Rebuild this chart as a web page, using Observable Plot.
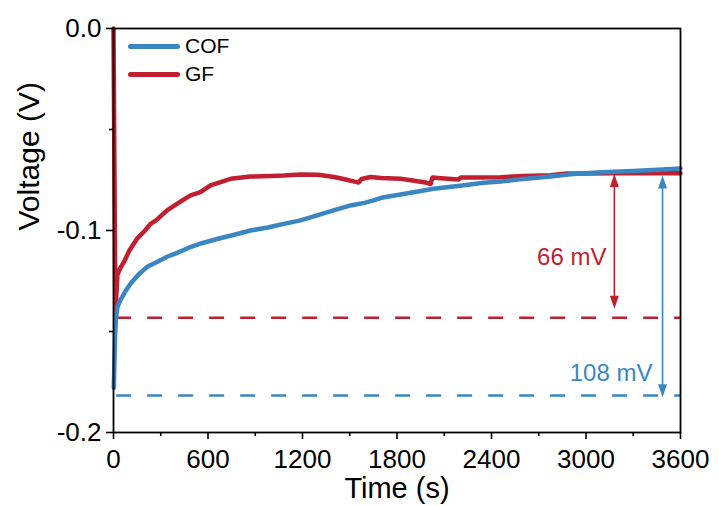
<!DOCTYPE html>
<html>
<head>
<meta charset="utf-8">
<script src="https://cdn.jsdelivr.net/npm/d3@7"></script>
<script src="https://cdn.jsdelivr.net/npm/@observablehq/plot@0.6"></script>
<style>
  html, body { margin: 0; padding: 0; background: #fff; }
  #wrap { position: relative; width: 719px; height: 506px; font-family: 'Liberation Sans', Arial, sans-serif; }
  #wrap svg { display: block; }
  #legend { position: absolute; left: 128px; top: 32px; font-size: 21px; line-height: 28px; color: #000; }
  #legend .row { display: flex; align-items: center; height: 28px; }
  #legend .sw { width: 52px; height: 5px; border-radius: 2.5px; margin-right: 5px; }
</style>
</head>
<body>
<div id="wrap"></div>
<script>
// ---- data ----
const seriesNames = ["COF", "GF"];

const cofTime = [2, 6, 10, 16, 25, 40, 55, 76, 108, 159, 214, 286, 340, 400, 457, 489, 560, 658, 760, 870, 980, 1081, 1187, 1293, 1397, 1505, 1600, 1651, 1700, 1850, 2032, 2200, 2350, 2457, 2565, 2775, 2900, 3100, 3300, 3486, 3600];
const cofVolt = [-0.178, -0.165, -0.152, -0.143, -0.138, -0.135, -0.133, -0.130, -0.1264, -0.1218, -0.118, -0.1152, -0.113, -0.1112, -0.1093, -0.1082, -0.1063, -0.1042, -0.1022, -0.100, -0.0985, -0.0967, -0.095, -0.0925, -0.090, -0.0876, -0.0862, -0.0851, -0.0838, -0.0818, -0.0793, -0.0778, -0.0764, -0.0758, -0.0748, -0.0733, -0.0722, -0.0712, -0.0705, -0.0698, -0.0693];

const gfTime = [0, 12, 25, 40, 70, 100, 150, 200, 235, 270, 340, 420, 489, 552, 616, 680, 743, 870, 1000, 1081, 1187, 1300, 1400, 1461, 1530, 1556, 1575, 1632, 1700, 1822, 1900, 1980, 2013, 2025, 2100, 2190, 2205, 2300, 2457, 2600, 2775, 2880, 3000, 3175, 3400, 3600];
const gfVolt = [0.000, -0.141, -0.122, -0.119, -0.115, -0.110, -0.104, -0.100, -0.0967, -0.095, -0.090, -0.086, -0.0826, -0.081, -0.0777, -0.076, -0.0744, -0.0733, -0.073, -0.0728, -0.0723, -0.0724, -0.0735, -0.0745, -0.0758, -0.0762, -0.0745, -0.0735, -0.074, -0.0744, -0.0752, -0.0762, -0.077, -0.0738, -0.0742, -0.0748, -0.0738, -0.0738, -0.0736, -0.073, -0.0727, -0.0718, -0.0718, -0.0716, -0.0716, -0.0716];

// reference (dashed) levels: [COF, GF]
const levelVolt = [-0.1817, -0.1432];
const levelStart = [20, 20];
const levelEnd = [3600, 3600];

// double arrows: [COF, GF]
const arrowTime = [3486, 3180];
const arrowTop = [-0.0728, -0.0720];
const arrowBottom = [-0.1826, -0.1387];
const arrowLabels = ["108 mV", "66 mV"];
const labelTime = [3422, 3130];
const labelVolt = [-0.1708, -0.1134];

// axis ticks
const xMajor = [0, 600, 1200, 1800, 2400, 3000, 3600];
const xMinor = [300, 900, 1500, 2100, 2700, 3300];
const yMajor = [0, -0.1, -0.2];
const yMinor = [-0.05, -0.15];
const xTickLabels = ["0", "600", "1200", "1800", "2400", "3000", "3600"];
const yTickLabels = ["0.0", "-0.1", "-0.2"];
const xTitle = "Time (s)";
const yTitle = "Voltage (V)";

// ---- styles ----
const colors = {COF: "#3a86c3", GF: "#c11f2f"};
const FONT = "'Liberation Sans', Arial, sans-serif";

const cof = cofTime.map((t, i) => ({t, v: cofVolt[i]}));
const gf = gfTime.map((t, i) => ({t, v: gfVolt[i]}));
const levels = seriesNames.map((s, i) => ({s, v: levelVolt[i], x1: levelStart[i], x2: levelEnd[i]}));
const arrows = seriesNames.map((s, i) => ({s, t: arrowTime[i], top: arrowTop[i], bottom: arrowBottom[i], label: arrowLabels[i], lt: labelTime[i], lv: labelVolt[i]}));
const xTicks = xMajor.map((v, i) => ({v, label: xTickLabels[i]}));
const yTicks = yMajor.map((v, i) => ({v, label: yTickLabels[i]}));

const headUp = {draw(ctx) { ctx.moveTo(0, 0); ctx.lineTo(4.5, 13); ctx.lineTo(-4.5, 13); ctx.closePath(); }};
const headDown = {draw(ctx) { ctx.moveTo(0, 0); ctx.lineTo(4.5, -13); ctx.lineTo(-4.5, -13); ctx.closePath(); }};

const marks = [];
// dashed levels
for (const d of levels) {
  marks.push(Plot.ruleY([d], {y: "v", x1: "x1", x2: "x2", stroke: colors[d.s], strokeWidth: 2.5, strokeDasharray: "15,16"}));
}
// curves
marks.push(Plot.line(gf, {x: "t", y: "v", stroke: colors.GF, strokeWidth: 4.5, strokeLinejoin: "round", strokeLinecap: "round"}));
marks.push(Plot.line(cof, {x: "t", y: "v", stroke: colors.COF, strokeWidth: 4.5, strokeLinejoin: "round", strokeLinecap: "round"}));
// arrows
for (const a of arrows) {
  marks.push(Plot.ruleX([a], {x: "t", y1: (d) => d.top - 0.004, y2: (d) => d.bottom + 0.004, stroke: colors[a.s], strokeWidth: 1.6}));
  marks.push(Plot.dot([a], {x: "t", y: "top", symbol: headUp, fill: colors[a.s], stroke: "none"}));
  marks.push(Plot.dot([a], {x: "t", y: "bottom", symbol: headDown, fill: colors[a.s], stroke: "none"}));
  marks.push(Plot.text([a], {x: "lt", y: "lv", text: "label", textAnchor: "end", fill: colors[a.s], fontSize: 24, fontFamily: FONT}));
}
// axes (ticks)
marks.push(Plot.axisX({ticks: xMajor, tickSize: 7, tickFormat: () => "", label: null, strokeWidth: 1.6}));
marks.push(Plot.axisX({ticks: xMinor, tickSize: 4, tickFormat: () => "", label: null, strokeWidth: 1.6}));
marks.push(Plot.axisY({ticks: yMajor, tickSize: 7, tickFormat: () => "", label: null, strokeWidth: 1.6}));
marks.push(Plot.axisY({ticks: yMinor, tickSize: 4, tickFormat: () => "", label: null, strokeWidth: 1.6}));
// tick labels
marks.push(Plot.text(xTicks, {x: "v", text: "label", frameAnchor: "bottom", lineAnchor: "top", dy: 17, fontSize: 26, fontFamily: FONT, fill: "black"}));
marks.push(Plot.text(yTicks, {y: "v", text: "label", frameAnchor: "left", textAnchor: "end", lineAnchor: "middle", dx: -12, fontSize: 26, fontFamily: FONT, fill: "black"}));
marks.push(Plot.frame({stroke: "black", strokeWidth: 1.8}));
// axis titles
marks.push(Plot.text([xTitle], {frameAnchor: "bottom", lineAnchor: "middle", dy: 56, fontSize: 29, fontFamily: FONT, fill: "black"}));
marks.push(Plot.text([yTitle], {frameAnchor: "left", lineAnchor: "middle", dx: -84, rotate: -90, fontSize: 30, fontFamily: FONT, fill: "black"}));

const chart = Plot.plot({
  width: 719,
  height: 506,
  marginLeft: 113,
  marginRight: 39,
  marginTop: 28,
  marginBottom: 74,
  x: {domain: [0, 3600]},
  y: {domain: [-0.2, 0]},
  style: {fontFamily: FONT, fontSize: "26px", color: "black", background: "white", overflow: "visible"},
  marks
});

const wrap = document.getElementById("wrap");
wrap.appendChild(chart);

const legend = document.createElement("div");
legend.id = "legend";
for (const s of seriesNames) {
  const row = document.createElement("div");
  row.className = "row";
  const sw = document.createElement("span");
  sw.className = "sw";
  sw.style.background = colors[s];
  const label = document.createElement("span");
  label.textContent = s;
  row.appendChild(sw);
  row.appendChild(label);
  legend.appendChild(row);
}
wrap.appendChild(legend);
</script>
</body>
</html>
